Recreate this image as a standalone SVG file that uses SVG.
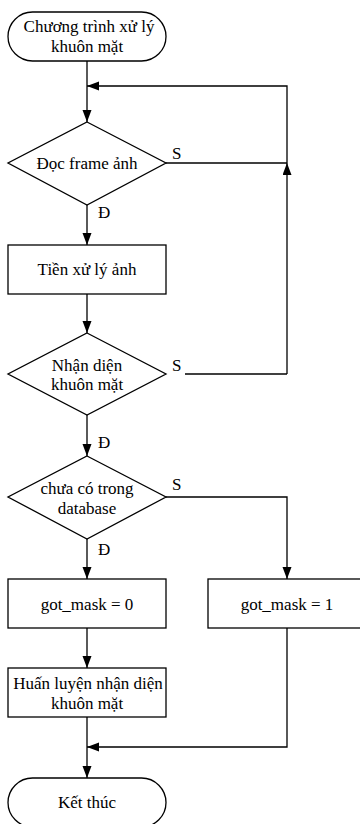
<svg xmlns="http://www.w3.org/2000/svg" width="360" height="824" viewBox="0 0 360 824" font-family="'Liberation Serif', 'Times New Roman', serif" font-size="17">
  <defs>
    <marker id="arrow" markerUnits="userSpaceOnUse" markerWidth="13" markerHeight="10" refX="12" refY="4.5" orient="auto">
      <path d="M0,0 L12,4.5 L0,9 z" fill="#000"/>
    </marker>
    <style>
      .shape { fill: #fff; stroke: #000; stroke-width: 1.3; }
      .edge { fill: none; stroke: #000; stroke-width: 1.3; }
      .arr { marker-end: url(#arrow); }
      .t { font-family: 'Liberation Serif', 'Times New Roman', serif; font-size: 17px; fill: #000; }
      .c { text-anchor: middle; }
    </style>
  </defs>
  <rect width="360" height="824" fill="#fff"/>

  <!-- connectors -->
  <g id="connectors">
    <path class="edge arr" d="M87,61 V122"/>
    <path class="edge arr" d="M287,163 V86 H87"/>
    <path class="edge" d="M166,163 H287"/>
    <path class="edge arr" d="M287,374 V163"/>
    <path class="edge" d="M185,374 H287"/>
    <path class="edge arr" d="M87,205 V245"/>
    <path class="edge arr" d="M87,294 V333"/>
    <path class="edge arr" d="M87,415 V456"/>
    <path class="edge arr" d="M87,539 V579"/>
    <path class="edge arr" d="M166,497 H287 V579"/>
    <path class="edge arr" d="M87,628 V668"/>
    <path class="edge arr" d="M87,717 V778"/>
    <path class="edge arr" d="M287,628 V747 H87"/>
    <text class="t" x="172" y="159">S</text>
    <text class="t" x="172" y="371">S</text>
    <text class="t" x="172" y="490">S</text>
    <text class="t" x="98" y="218">Đ</text>
    <text class="t" x="98" y="448">Đ</text>
    <text class="t" x="98" y="555">Đ</text>
  </g>

  <g id="start">
    <rect class="shape" x="8" y="12" width="158" height="49" rx="24.5" ry="24.5"/>
    <text class="t c" x="89" y="32">Chương trình xử lý</text>
    <text class="t c" x="87" y="52">khuôn mặt</text>
  </g>

  <g id="read-frame">
    <polygon class="shape" points="87,122 166,163 87,205 8,163"/>
    <text class="t c" x="87" y="169">Đọc frame ảnh</text>
  </g>

  <g id="preprocess">
    <rect class="shape" x="8" y="245" width="158" height="49"/>
    <text class="t c" x="87" y="275">Tiền xử lý ảnh</text>
  </g>

  <g id="detect-face">
    <polygon class="shape" points="87,333 166,374 87,415 8,374"/>
    <text class="t c" x="87" y="371">Nhận diện</text>
    <text class="t c" x="87" y="390">khuôn mặt</text>
  </g>

  <g id="not-in-db">
    <polygon class="shape" points="87,456 166,497 87,539 8,497"/>
    <text class="t c" x="87" y="494">chưa có trong</text>
    <text class="t c" x="87" y="514">database</text>
  </g>

  <g id="mask-0">
    <rect class="shape" x="8" y="579" width="158" height="49"/>
    <text class="t c" x="87" y="610">got_mask = 0</text>
  </g>

  <g id="mask-1">
    <rect class="shape" x="208" y="579" width="158" height="49"/>
    <text class="t c" x="287" y="610">got_mask = 1</text>
  </g>

  <g id="train">
    <rect class="shape" x="8" y="668" width="158" height="49"/>
    <text class="t c" x="88" y="689">Huấn luyện nhận diện</text>
    <text class="t c" x="87" y="709">khuôn mặt</text>
  </g>

  <g id="end">
    <rect class="shape" x="8" y="778" width="158" height="49" rx="24.5" ry="24.5"/>
    <text class="t c" x="87" y="808">Kết thúc</text>
  </g>
</svg>
